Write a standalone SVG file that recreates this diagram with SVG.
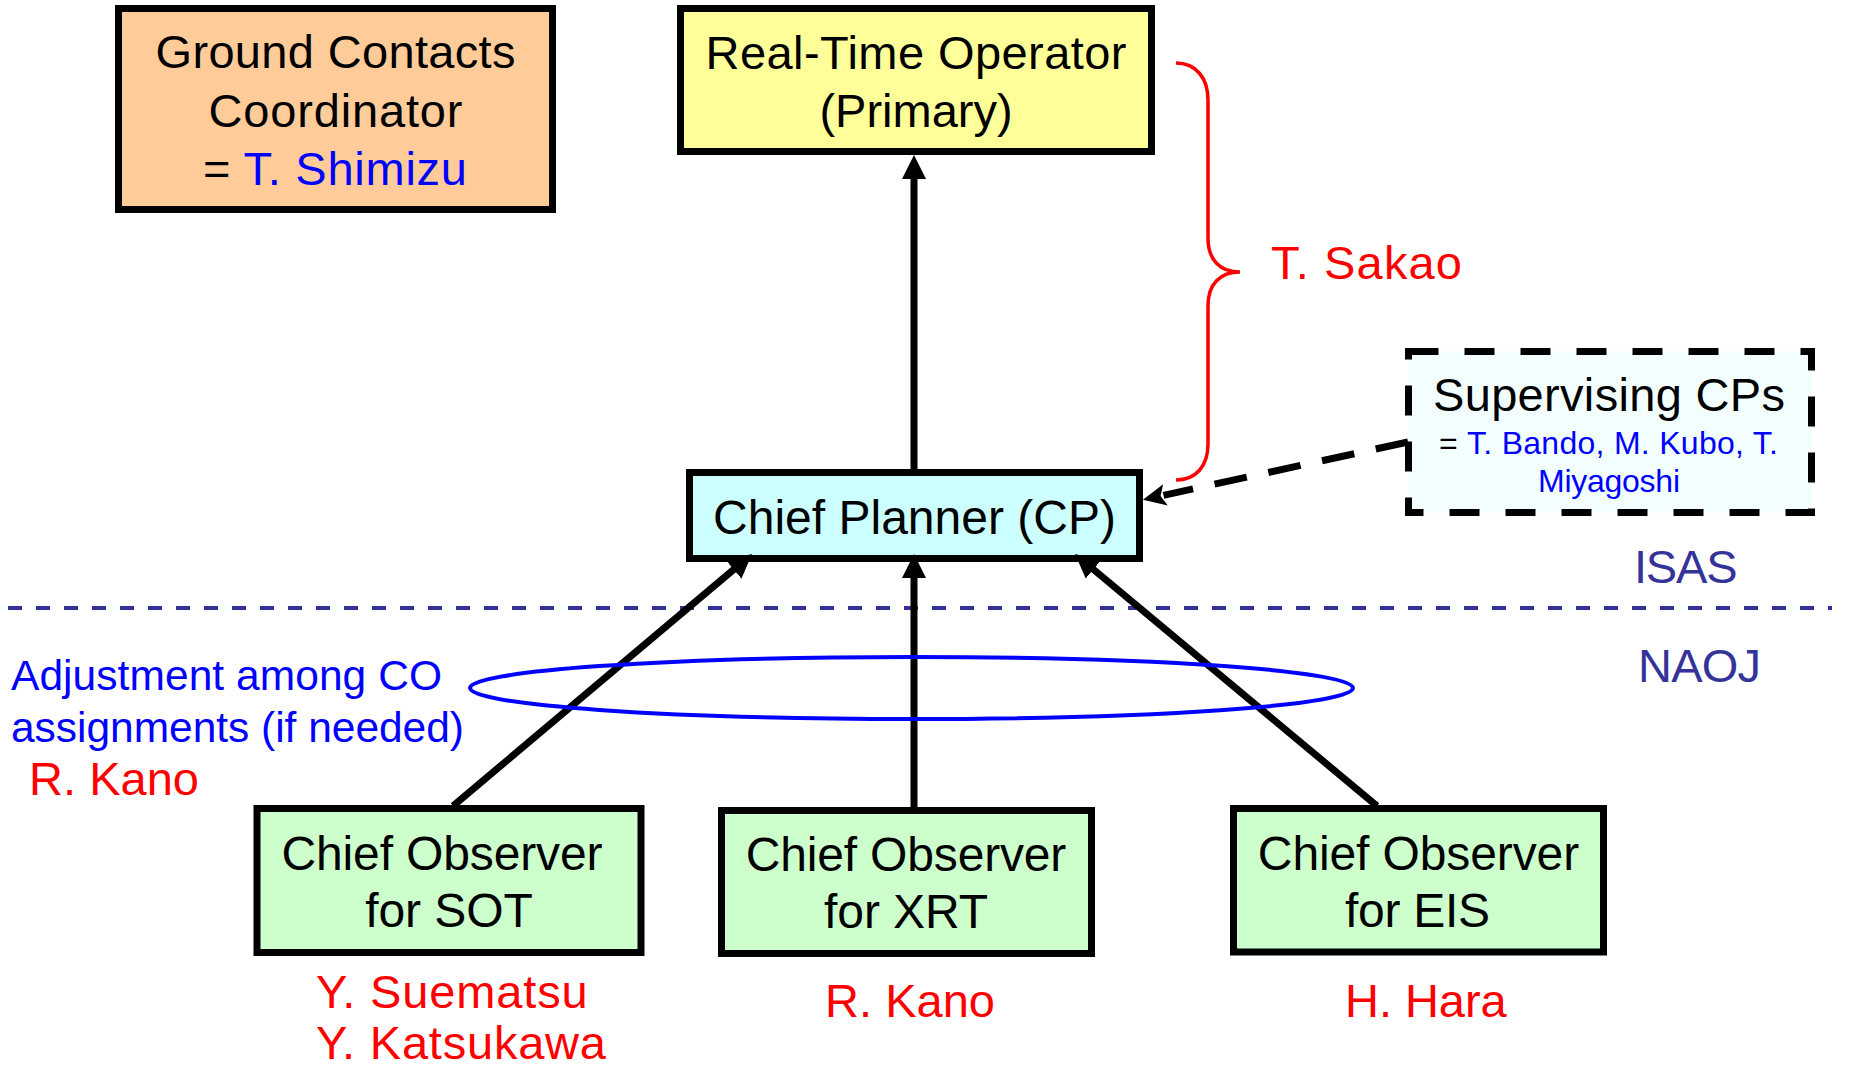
<svg xmlns="http://www.w3.org/2000/svg" width="1851" height="1070" viewBox="0 0 1851 1070">
<style>
  text { font-family: "Liberation Sans", Arial, Helvetica, sans-serif; }
  .box { stroke: #000; stroke-width: 7; }
  .t47 { font-size: 47px; fill: #000; }
  .t48 { font-size: 48px; fill: #000; }
  .mid { text-anchor: middle; }
  .red { fill: #FF0000; font-size: 47px; }
  .blue { fill: #0000FF; }
  .org { fill: #333399; font-size: 47px; }
  .conn { stroke: #000; stroke-width: 7; fill: none; }
</style>
<defs>
  <marker id="ah" markerUnits="userSpaceOnUse" markerWidth="30" markerHeight="30" viewBox="0 -15 30 30" refX="2" refY="0" orient="auto">
    <path d="M0,-12 L24,0 L0,12 z" fill="#000"/>
  </marker>
  <marker id="ah2" markerUnits="userSpaceOnUse" markerWidth="30" markerHeight="30" viewBox="0 -15 30 30" refX="2" refY="0" orient="auto">
    <path d="M0,-11 L23,0 L0,11 L5,0 z" fill="#000"/>
  </marker>
</defs>
<rect width="1851" height="1070" fill="#fff"/>

<!-- ISAS / NAOJ divider -->
<g id="divider">
  <line x1="8" y1="608" x2="1832" y2="608" stroke="#333399" stroke-width="4" stroke-dasharray="14 14"/>
  <text class="org" x="1634" y="583" textLength="103.5">ISAS</text>
  <text class="org" x="1638" y="682" textLength="123">NAOJ</text>
</g>

<g id="ground-contacts">
  <rect class="box" x="118.5" y="8.5" width="434" height="201" fill="#FFCC99"/>
  <text class="t47 mid" x="335.5" y="68" textLength="360">Ground Contacts</text>
  <text class="t47 mid" x="335.5" y="127" textLength="254">Coordinator</text>
  <text class="t47" x="203" y="185">= <tspan class="blue" x="243.5" textLength="223.5">T. Shimizu</tspan></text>
</g>

<g id="rto">
  <rect class="box" x="680.5" y="8.5" width="471" height="143" fill="#FFFF99"/>
  <text class="t47 mid" x="916" y="69" textLength="421">Real-Time Operator</text>
  <text class="t47 mid" x="916" y="127">(Primary)</text>
</g>

<g id="cp">
  <rect class="box" x="689.5" y="472.5" width="450" height="86" fill="#CCFFFF"/>
  <text class="t48 mid" x="914.5" y="534" textLength="403">Chief Planner (CP)</text>
</g>

<g id="supervising">
  <rect x="1408.5" y="351.5" width="403" height="161" fill="#F3FFFF" stroke="#000" stroke-width="7" stroke-dasharray="30 26"/>
  <text class="t47 mid" x="1609" y="411" textLength="352">Supervising CPs</text>
  <text x="1439" y="454" style="font-size:32px" fill="#000">=</text>
  <text class="blue" x="1467" y="454" style="font-size:32px" textLength="311">T. Bando, M. Kubo, T.</text>
  <text class="mid blue" x="1609" y="492" style="font-size:32px" textLength="142">Miyagoshi</text>
</g>

<g id="co-sot">
  <rect class="box" x="257" y="808.5" width="384" height="144" fill="#CCFFCC"/>
  <text class="t48 mid" x="442" y="870" textLength="321">Chief Observer</text>
  <text class="t48 mid" x="449" y="927" textLength="167.7">for SOT</text>
</g>

<g id="co-xrt">
  <rect class="box" x="721.5" y="810.5" width="370" height="143" fill="#CCFFCC"/>
  <text class="t48 mid" x="906" y="871" textLength="320.7">Chief Observer</text>
  <text class="t48 mid" x="906" y="928" textLength="164">for XRT</text>
</g>

<g id="co-eis">
  <rect class="box" x="1233.5" y="808.5" width="370" height="143.5" fill="#CCFFCC"/>
  <text class="t48 mid" x="1418.5" y="870" textLength="321.3">Chief Observer</text>
  <text class="t48 mid" x="1417.5" y="927" textLength="145">for EIS</text>
</g>

<g id="connectors">
  <line class="conn" x1="914" y1="469" x2="914" y2="177" marker-end="url(#ah)"/>
  <line class="conn" x1="914" y1="807" x2="914" y2="576" marker-end="url(#ah)"/>
  <line class="conn" x1="453" y1="806" x2="735.2" y2="568.2" marker-end="url(#ah)"/>
  <line class="conn" x1="1377" y1="806" x2="1091.9" y2="568.1" marker-end="url(#ah)"/>
  <line class="conn" x1="1408" y1="442" x2="1163.5" y2="495.3" stroke-dasharray="33 22" marker-end="url(#ah2)"/>
</g>

<g id="co-adjustment">
  <ellipse cx="911.5" cy="688" rx="441.5" ry="31" fill="none" stroke="#0000FF" stroke-width="4"/>
  <text class="blue" x="11" y="690" style="font-size:42.5px" textLength="431">Adjustment among CO</text>
  <text class="blue" x="11" y="742" style="font-size:42.5px" textLength="453">assignments (if needed)</text>
  <text class="red" x="29" y="795" textLength="170">R. Kano</text>
</g>

<g id="sakao-brace">
  <path d="M1176,63 C1196,63 1208,78 1208,100 L1208,238 C1208,260 1220,272 1240,272 C1220,272 1208,284 1208,306 L1208,444 C1208,466 1196,480 1176,480" fill="none" stroke="#FF0000" stroke-width="3.5"/>
  <text class="red" x="1271" y="279" textLength="191">T. Sakao</text>
</g>

<g id="names">
  <text class="red" x="316" y="1008" textLength="271.7">Y. Suematsu</text>
  <text class="red" x="316" y="1059" textLength="290">Y. Katsukawa</text>
  <text class="red" x="825" y="1017" textLength="170">R. Kano</text>
  <text class="red" x="1345" y="1017" textLength="161.7">H. Hara</text>
</g>
</svg>
